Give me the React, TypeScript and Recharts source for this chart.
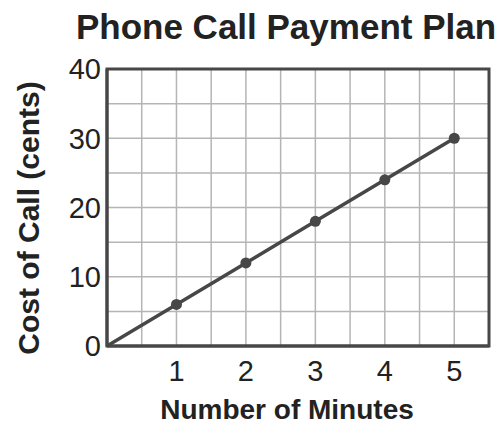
import React from 'react';
import { LineChart, Line, XAxis, YAxis, CartesianGrid, ReferenceArea, Label } from 'recharts';

const minutes = [0, 1, 2, 3, 4, 5];
const cents = [0, 6, 12, 18, 24, 30];
const xTicks = [0, 0.5, 1, 1.5, 2, 2.5, 3, 3.5, 4, 4.5, 5, 5.5];
const yTicks = [0, 5, 10, 15, 20, 25, 30, 35, 40];
const xLabeled = [1, 2, 3, 4, 5];
const yLabeled = [0, 10, 20, 30, 40];
const title = 'Phone Call Payment Plan';
const xTitle = 'Number of Minutes';
const yTitle = 'Cost of Call (cents)';

const data = minutes.map((m, i) => ({ m, c: cents[i] }));

const FONT = '"Liberation Sans", Arial, sans-serif';
const AXIS = '#474747';
const GRID = '#b5b5b5';

const Dot = (props: any) => {
  const { cx, cy, payload, index } = props;
  if (!payload || payload.m === 0) return <g key={`d${index}`} />;
  return <circle key={`d${index}`} cx={cx} cy={cy} r={5.5} fill={AXIS} />;
};

export default function App() {
  const yW = 40;
  const xH = 50;
  return (
    <div style={{ position: 'absolute', left: 0, top: 0, width: 499, height: 427, background: '#fff' }}>
      <svg width={499} height={60} style={{ position: 'absolute', left: 0, top: 0 }}>
        <text
          x={286}
          y={39}
          textAnchor="middle"
          fontFamily={FONT}
          fontWeight="bold"
          fontSize={35}
          fill="#222"
        >
          {title}
        </text>
      </svg>
      <LineChart
        width={499}
        height={427}
        data={data}
        margin={{ top: 69, right: 10, bottom: 81 - xH, left: 107 - yW }}
        style={{ position: 'absolute', left: 0, top: 0 }}
      >
        <CartesianGrid stroke={GRID} strokeWidth={1.5} />
        <XAxis
          dataKey="m"
          type="number"
          domain={[0, 5.5]}
          ticks={xTicks}
          interval={0}
          height={xH}
          tickLine={false}
          axisLine={{ stroke: AXIS, strokeWidth: 3 }}
          tick={{ fontFamily: FONT, fontSize: 29, fill: '#222' }}
          tickMargin={8}
          tickFormatter={(v: number) => (xLabeled.includes(v) ? String(v) : '')}
        >
          <Label
            content={() => (
              <text
                x={287}
                y={419}
                textAnchor="middle"
                fontFamily={FONT}
                fontWeight="bold"
                fontSize={28}
                fill="#222"
              >
                {xTitle}
              </text>
            )}
          />
        </XAxis>
        <YAxis
          type="number"
          domain={[0, 40]}
          ticks={yTicks}
          interval={0}
          width={yW}
          tickLine={false}
          axisLine={{ stroke: AXIS, strokeWidth: 3 }}
          tick={{ fontFamily: FONT, fontSize: 29, fill: '#222' }}
          tickMargin={0}
          tickFormatter={(v: number) => (yLabeled.includes(v) ? String(v) : '')}
        >
          <Label
            content={() => (
              <text
                x={39}
                y={218}
                transform="rotate(-90 39 218)"
                textAnchor="middle"
                fontFamily={FONT}
                fontWeight="bold"
                fontSize={30}
                fill="#222"
              >
                {yTitle}
              </text>
            )}
          />
        </YAxis>
        <ReferenceArea
          x1={0}
          x2={5.5}
          y1={0}
          y2={40}
          fill="none"
          fillOpacity={0}
          stroke={AXIS}
          strokeWidth={3}
          ifOverflow="visible"
        />
        <Line
          type="linear"
          dataKey="c"
          stroke={AXIS}
          strokeWidth={3.5}
          dot={Dot}
          activeDot={false}
          isAnimationActive={false}
        />
      </LineChart>
    </div>
  );
}
